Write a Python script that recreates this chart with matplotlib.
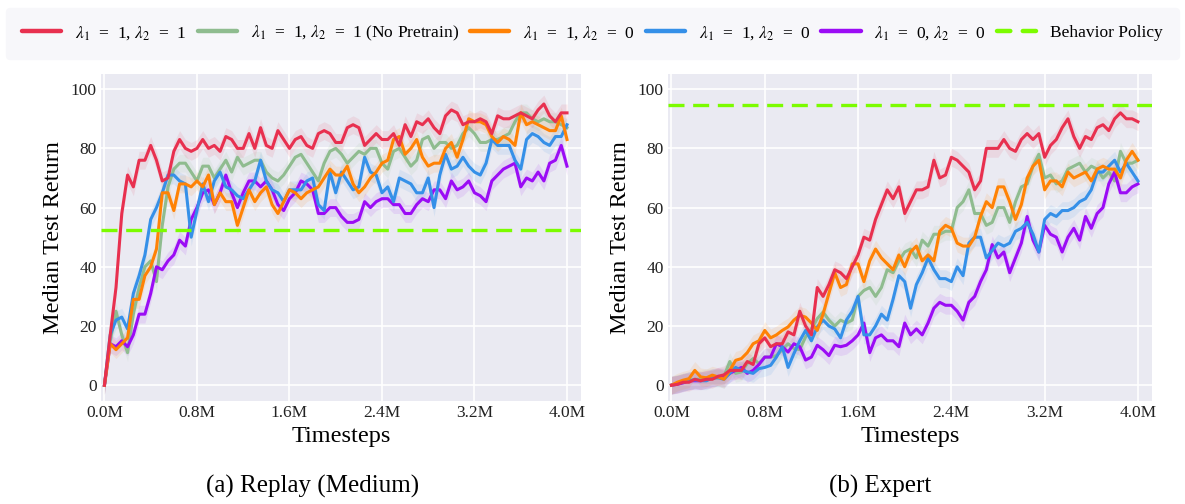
import numpy as np
import matplotlib
matplotlib.use('Agg')
import matplotlib.pyplot as plt
from matplotlib.lines import Line2D
from matplotlib.ticker import FuncFormatter

plt.rcParams['font.family'] = ['Liberation Serif', 'DejaVu Serif']
plt.rcParams['mathtext.fontset'] = 'stix'

# timesteps in millions, one reading every 0.05M
timesteps = np.linspace(0.0, 4.0, 81)

EN = '\u2002'  # en space, the legend equations are loosely spaced
series_labels = [rf'$\lambda_1${EN}={EN}1, $\lambda_2${EN}={EN}1',
                 rf'$\lambda_1${EN}={EN}1, $\lambda_2${EN}={EN}1 (No Pretrain)',
                 rf'$\lambda_1${EN}={EN}1, $\lambda_2${EN}={EN}0',
                 rf'$\lambda_1${EN}={EN}1, $\lambda_2${EN}={EN}0',
                 rf'$\lambda_1${EN}={EN}0, $\lambda_2${EN}={EN}0']
series_colors = ['#e8304f', '#8fbc8f', '#ff8205', '#3590e8', '#9b0cf5']
behavior_label = 'Behavior Policy'
behavior_color = '#7cfc00'

# (a) Replay (Medium)
replay_both = [0, 17, 33, 58, 71, 67, 76, 76, 81, 76, 69, 70, 79, 83, 80, 79, 80, 83, 80, 81,
               79, 84, 83, 80, 80, 85, 80, 87, 81, 80, 86, 83, 80, 83, 84, 81, 80, 85, 86, 85,
               82, 82, 87, 88, 87, 81, 83, 85, 83, 83, 85, 81, 88, 84, 89, 88, 90, 87, 85, 91,
               93, 92, 88, 89, 89, 90, 89, 85, 91, 90, 90, 91, 92, 91, 90, 93, 95, 91, 89, 92, 92]
replay_no_pretrain = [0, 15, 25, 17, 11, 24, 33, 40, 42, 35, 54, 67, 73, 75, 75, 72, 69, 74, 74, 70,
                      73, 76, 72, 77, 74, 75, 76, 76, 72, 70, 69, 71, 74, 77, 78, 75, 72, 69, 75, 79,
                      80, 78, 75, 77, 79, 78, 80, 80, 75, 73, 79, 80, 77, 74, 76, 83, 84, 80, 82, 82,
                      80, 81, 85, 87, 85, 82, 82, 83, 83, 84, 85, 89, 92, 92, 90, 89, 90, 89, 89, 88, 87]
replay_l1_only = [0, 14, 12, 14, 16, 29, 29, 37, 40, 46, 65, 65, 59, 68, 68, 67, 69, 67, 71, 61,
                  65, 62, 62, 54, 60, 66, 62, 65, 67, 61, 58, 62, 66, 65, 63, 65, 66, 67, 70, 73,
                  71, 71, 74, 68, 65, 67, 70, 72, 75, 76, 83, 84, 78, 80, 83, 77, 74, 75, 75, 80,
                  82, 77, 83, 90, 89, 89, 88, 84, 82, 84, 83, 81, 92, 88, 89, 88, 87, 86, 86, 91, 83]
replay_l1_only_b = [0, 17, 22, 23, 19, 31, 37, 44, 56, 60, 65, 71, 71, 69, 68, 50, 59, 68, 62, 69,
                    72, 67, 66, 64, 63, 66, 69, 76, 69, 66, 65, 62, 66, 66, 66, 69, 70, 61, 59, 72,
                    65, 72, 69, 66, 67, 77, 72, 71, 65, 67, 62, 70, 69, 68, 65, 65, 70, 60, 71, 78,
                    73, 74, 77, 74, 72, 71, 75, 83, 81, 81, 81, 76, 73, 83, 85, 84, 82, 81, 84, 84, 88]
replay_none = [0, 14, 13, 15, 13, 17, 24, 24, 31, 40, 39, 42, 44, 49, 47, 56, 60, 65, 66, 61,
               65, 71, 65, 60, 65, 69, 69, 67, 69, 66, 61, 59, 63, 65, 69, 68, 66, 58, 58, 60,
               60, 57, 55, 55, 56, 62, 60, 62, 63, 63, 61, 61, 58, 58, 61, 63, 62, 66, 66, 63,
               69, 66, 67, 69, 65, 64, 62, 69, 71, 73, 74, 75, 67, 70, 69, 72, 69, 75, 76, 81, 74]
replay_behavior = 52.3

# (b) Expert
expert_both = [0, 0.3, 1, 1, 2, 1.5, 2, 2, 3, 3.5, 5, 5, 5, 8, 7, 14, 16, 13, 14, 14,
               18, 17, 25, 20, 17, 33, 30, 34, 39, 38, 36, 40, 44, 50, 49, 56, 61, 66, 63, 67,
               58, 62, 66, 66, 67, 76, 70, 71, 77, 76, 74, 72, 66, 69, 80, 80, 80, 83, 80, 79,
               83, 85, 83, 85, 77, 81, 83, 87, 90, 84, 80, 84, 83, 87, 88, 86, 90, 92, 90, 90, 89]
expert_no_pretrain = [0, 0.5, 1, 1.5, 2, 2, 2.5, 2.5, 2.5, 3, 8, 4, 4.5, 7.3, 9, 7.3, 9.5, 9.5, 10, 12,
                      14, 12.4, 12, 16.3, 19, 22.5, 24.7, 22, 20, 22, 21, 22, 30, 32, 33, 30, 33, 39, 38, 42,
                      45, 46, 43, 49, 47, 51, 51, 52, 52, 60, 62, 66, 58, 58, 54, 55, 60, 60, 55, 62,
                      67, 68, 74, 78, 70, 71, 68, 69, 73, 74, 75, 72, 74, 73, 70, 72, 69, 79, 75, 75, 76]
expert_l1_only = [0, 1, 1.7, 2.2, 5, 2.8, 2.5, 3.4, 2.8, 2, 5, 8.4, 9, 11, 14, 15, 18.5, 16, 17, 18.5,
                  19.7, 22, 23.6, 23, 21, 18.5, 24, 31, 38, 33, 34, 41, 41, 35, 42, 46, 43, 41, 39, 44,
                  40, 45, 47, 42, 44, 42, 52, 54, 53, 48, 47, 47, 50, 57, 62, 60, 67, 67, 62, 56,
                  61, 70, 74, 76, 66, 69, 69, 67, 72, 70, 71, 72, 69, 73, 74, 73, 73, 70, 76, 79, 76]
expert_l1_only_b = [0, 0.5, 1, 1.5, 1.8, 1.5, 1.5, 2.5, 2.5, 2, 4, 6, 5, 4.5, 4, 5.6, 6, 6.7, 9.5, 13,
                    6, 10.7, 15, 18.5, 15, 19.7, 22, 20, 19, 16, 22, 25, 30, 17, 17, 20, 24, 22, 29, 37,
                    35, 26, 34, 38, 43, 39, 36, 36, 35, 40, 37, 48, 50, 50, 43, 45.5, 48, 47, 48, 52,
                    53, 55, 51, 45, 56, 58, 57, 59, 59, 60, 62, 63, 66, 72, 72, 74, 76, 72, 75, 72, 69]
expert_none = [0, 0.3, 0.8, 1.5, 1.5, 1.5, 2, 2.5, 3, 2.5, 4, 5, 6, 4, 5, 7, 9.5, 9.5, 14, 13,
               11.2, 14, 13, 8.5, 9.5, 13.5, 12, 10, 13.5, 13, 13.5, 15, 17, 21, 11, 16, 17, 15, 15, 13,
               21, 17, 19, 17, 21, 26, 28, 27, 27, 25, 22, 28, 30, 35, 39, 47.5, 43, 45, 38, 43,
               48, 57, 49, 45, 54, 51, 50, 45, 50, 53, 49, 57, 53, 58, 60, 68, 72, 65, 65, 67, 68]
expert_behavior = 94.5

band_half_width = 3.0
draw_order = [1, 4, 3, 2, 0]


def plot_panel(ax, curves, behavior):
    """Draws one panel: the five return curves plus the behavior policy level."""
    ax.set_facecolor('#eaeaf2')
    for spine in ax.spines.values():
        spine.set_visible(False)
    ax.grid(True, color='white', linewidth=1.2)
    ax.set_axisbelow(True)

    for i in draw_order:
        y = np.asarray(curves[i], dtype=float)
        ax.fill_between(timesteps, y - band_half_width, y + band_half_width,
                        color=series_colors[i], alpha=0.1, linewidth=0)
        ax.plot(timesteps, y, color=series_colors[i], linewidth=2.2)

    ax.axhline(behavior, color=behavior_color, linewidth=2.4, dashes=(4.8, 2.6))

    ax.set_xlim(-0.03, 4.12)
    ax.set_ylim(-5.4, 105.1)
    ax.set_xticks([0.0, 0.8, 1.6, 2.4, 3.2, 4.0])
    ax.xaxis.set_major_formatter(FuncFormatter(lambda v, p: f'{v:.1f}M'))
    ax.set_yticks(range(0, 101, 20))
    ax.tick_params(length=0, labelsize=12.5, pad=3, colors='#222222')
    ax.set_xlabel('Timesteps', fontsize=17.5, labelpad=3)
    ax.set_ylabel('Median Test Return', fontsize=17.5, labelpad=5)


fig = plt.figure(figsize=(11.85, 5.04), dpi=100)
ax_a = fig.add_axes([0.0852, 0.204, 0.405, 0.649])
ax_b = fig.add_axes([0.5637, 0.204, 0.4084, 0.649])

plot_panel(ax_a, [replay_both, replay_no_pretrain, replay_l1_only, replay_l1_only_b, replay_none],
           replay_behavior)
plot_panel(ax_b, [expert_both, expert_no_pretrain, expert_l1_only, expert_l1_only_b, expert_none],
           expert_behavior)

fig.text(0.264, 0.034, '(a) Replay (Medium)', ha='center', va='center', fontsize=18)
fig.text(0.743, 0.034, '(b) Expert', ha='center', va='center', fontsize=18)

# legend across the top
handles = [Line2D([], [], color=c, linewidth=3.2, solid_capstyle='round') for c in series_colors]
handles.append(Line2D([], [], color=behavior_color, linewidth=3.2, dashes=(3.0, 2.8),
                      dash_capstyle='round'))
fig.legend(handles, series_labels + [behavior_label], loc='upper center',
           bbox_to_anchor=(0.5, 0.984), ncol=6, fontsize=12.5,
           handlelength=2.25, handletextpad=0.8, columnspacing=0.65, borderpad=0.9,
           frameon=True, facecolor='#f7f7fa', edgecolor='#f7f7fa', fancybox=True,
           framealpha=1.0, borderaxespad=0)

fig.savefig('out.png', dpi=100)
